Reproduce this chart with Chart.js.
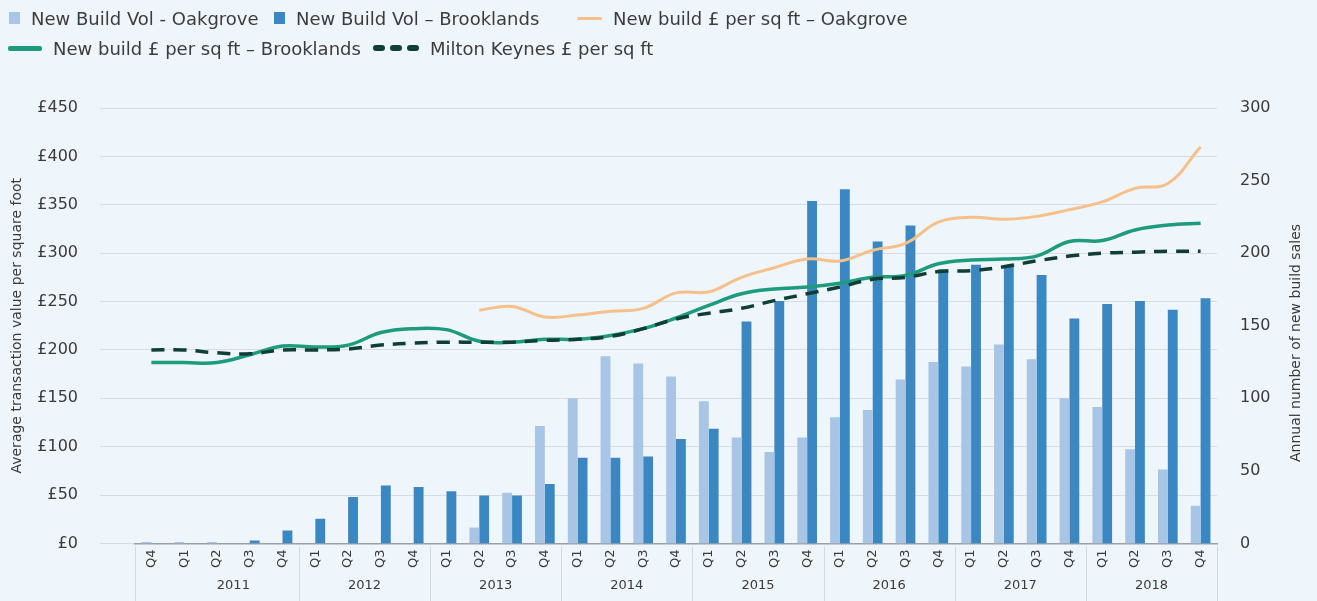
<!DOCTYPE html>
<html>
<head>
<meta charset="utf-8">
<title>New build sales and price per sq ft</title>
<script src="https://cdn.jsdelivr.net/npm/chart.js@4.4.0/dist/chart.umd.min.js"></script>
<style>
  html, body { margin: 0; padding: 0; background: #eef5fb; }
  #wrap { position: relative; width: 1317px; height: 601px; overflow: hidden; }
  #chart { position: absolute; left: 0; top: 0; }
  #legend { position: absolute; left: 0; top: 0; width: 1317px; font-family: 'DejaVu Sans', sans-serif; font-size: 18px; color: #3c3c3c; }
  .item { position: absolute; display: flex; align-items: center; white-space: nowrap; height: 24px; }
  .sym { margin-right: 11px; display: flex; align-items: center; gap: 5px; }
</style>
</head>
<body>
<div id="wrap">
  <canvas id="chart" width="1317" height="601"></canvas>
  <div id="legend"></div>
</div>
<script>
// quarters, 2011 Q4 (the lead-in quarter) .. 2018 Q4
const quarters = ['Q4', 'Q1', 'Q2', 'Q3', 'Q4',
  'Q1', 'Q2', 'Q3', 'Q4', 'Q1', 'Q2', 'Q3', 'Q4', 'Q1', 'Q2', 'Q3', 'Q4',
  'Q1', 'Q2', 'Q3', 'Q4', 'Q1', 'Q2', 'Q3', 'Q4', 'Q1', 'Q2', 'Q3', 'Q4',
  'Q1', 'Q2', 'Q3', 'Q4'];
const years = ['2011', '2012', '2013', '2014', '2015', '2016', '2017', '2018'];
const yearStart = [0, 5, 9, 13, 17, 21, 25, 29];

// annual number of new build sales (right axis)
const volOakgrove = [1, 1, 1, 0, 0, 0, 0, 0, 0, 0, 11, 35, 81,
  100, 129, 124, 115, 98, 73, 63, 73, 87, 92, 113, 125,
  122, 137, 127, 100, 94, 65, 51, 26];
const volBrooklands = [0, 0, 0, 2, 9, 17, 32, 40, 39, 36, 33, 33, 41,
  59, 59, 60, 72, 79, 153, 167, 236, 244, 208, 219, 189,
  192, 191, 185, 155, 165, 167, 161, 169];

// average £ per sq ft (left axis)
const psfOakgrove = [null, null, null, null, null, null, null, null, null, null, 241, 245, 234,
  236, 240, 243, 259, 260, 275, 285, 294, 292, 303, 310, 332,
  337, 335, 338, 345, 353, 367, 372, 410];
const psfBrooklands = [187, 187, 187, 195, 204, 203, 205, 218, 222, 221, 209, 208, 211,
  211, 215, 222, 233, 246, 258, 263, 265, 269, 275, 277, 289,
  293, 294, 297, 312, 313, 324, 329, 331];
const psfMiltonKeynes = [200, 200, 197, 196, 200, 200, 201, 205, 207, 208, 208, 208, 210,
  211, 214, 222, 232, 238, 243, 251, 258, 265, 273, 275, 281,
  282, 286, 292, 297, 300, 301, 302, 302];

const leftTitle = 'Average transaction value per square foot';
const rightTitle = 'Annual number of new build sales';

const FONT = "'DejaVu Sans', sans-serif";
const TEXT = '#3a3a3a';
Chart.defaults.font.family = FONT;
Chart.defaults.color = TEXT;

// year row under the quarter labels + right axis title (reads bottom to top)
const extras = {
  id: 'extras',
  afterDraw(chart) {
    const {ctx, chartArea} = chart;
    const x = chart.scales.x;
    const half = (x.getPixelForValue(1) - x.getPixelForValue(0)) / 2;
    const bounds = yearStart.concat([quarters.length]);
    ctx.save();
    ctx.strokeStyle = '#d2d9e0';
    ctx.lineWidth = 1;
    bounds.forEach(function(i) {
      const px = Math.round(x.getPixelForValue(i) - half) + 0.5;
      ctx.beginPath();
      ctx.moveTo(px, chartArea.bottom + 3);
      ctx.lineTo(px, chart.height);
      ctx.stroke();
    });
    ctx.fillStyle = TEXT;
    ctx.font = '13px ' + FONT;
    ctx.textAlign = 'center';
    ctx.textBaseline = 'middle';
    years.forEach(function(yr, k) {
      const end = bounds[k + 1] - 1;
      const cx = (x.getPixelForValue(end - 3) + x.getPixelForValue(end)) / 2;
      ctx.fillText(yr, cx, chartArea.bottom + 42);
    });
    ctx.font = '14px ' + FONT;
    ctx.translate(1296, 343);
    ctx.rotate(-Math.PI / 2);
    ctx.fillText(rightTitle, 0, 0);
    ctx.restore();
  }
};

const chart = new Chart(document.getElementById('chart'), {
  type: 'bar',
  data: {
    labels: quarters,
    datasets: [
      { label: 'New Build Vol - Oakgrove', data: volOakgrove, yAxisID: 'y1',
        backgroundColor: '#a9c5e6', order: 3 },
      { label: 'New Build Vol – Brooklands', data: volBrooklands, yAxisID: 'y1',
        backgroundColor: '#3a87c1', order: 4 },
      { type: 'line', label: 'New build £ per sq ft – Oakgrove', data: psfOakgrove, yAxisID: 'y',
        borderColor: '#f5c08a', backgroundColor: '#f5c08a', borderWidth: 3, pointRadius: 0, tension: 0.4, order: 2 },
      { type: 'line', label: 'New build £ per sq ft – Brooklands', data: psfBrooklands, yAxisID: 'y',
        borderColor: '#1e9b7f', backgroundColor: '#1e9b7f', borderWidth: 3.5, pointRadius: 0, tension: 0.4, order: 1 },
      { type: 'line', label: 'Milton Keynes £ per sq ft', data: psfMiltonKeynes, yAxisID: 'y',
        borderColor: '#0f3e36', backgroundColor: '#0f3e36', borderWidth: 3.5, borderDash: [13, 9],
        pointRadius: 0, tension: 0.4, order: 0 }
    ]
  },
  options: {
    responsive: false,
    animation: false,
    layout: { padding: { top: 108, bottom: 27, left: 0, right: 0 } },
    datasets: { bar: { categoryPercentage: 0.6, barPercentage: 1 } },
    plugins: { legend: { display: false }, tooltip: { enabled: false } },
    scales: {
      x: {
        grid: { display: false, drawTicks: false },
        border: { color: '#9aa0a6', width: 1.5 },
        ticks: { autoSkip: false, minRotation: 90, maxRotation: 90, padding: 6, font: { size: 13 } }
      },
      y: {
        position: 'left', min: 0, max: 450,
        afterFit: function(scale) { scale.width = 135; },
        ticks: { stepSize: 50, padding: 22, font: { size: 16 }, callback: function(v) { return '£' + v; } },
        grid: { color: '#d6dce2', tickLength: 35 },
        border: { display: false },
        title: { display: true, text: leftTitle, font: { size: 14 }, padding: { top: 9, bottom: 0 } }
      },
      y1: {
        position: 'right', min: 0, max: 300,
        afterFit: function(scale) { scale.width = 100; },
        ticks: { stepSize: 50, padding: 23, font: { size: 16 } },
        grid: { display: false, drawTicks: false },
        border: { display: false }
      }
    }
  },
  plugins: [extras]
});

// html legend, laid out in two rows like the original
const legendSlots = [
  { i: 0, left: 9, top: 6 }, { i: 1, left: 274, top: 6 }, { i: 2, left: 577, top: 6 },
  { i: 3, left: 8, top: 36 }, { i: 4, left: 373, top: 36 }
];
const legend = document.getElementById('legend');
legendSlots.forEach(function(slot) {
  const ds = chart.data.datasets[slot.i];
  const item = document.createElement('div');
  item.className = 'item';
  item.style.left = slot.left + 'px';
  item.style.top = slot.top + 'px';
  const sym = document.createElement('span');
  sym.className = 'sym';
  if (!ds.type) {
    sym.innerHTML = '<span style="display:inline-block;width:11px;height:12px;background:' + ds.backgroundColor + '"></span>';
  } else if (ds.borderDash) {
    sym.innerHTML = [0, 1, 2].map(function() {
      return '<span style="display:inline-block;width:12px;height:6px;border-radius:3px;background:' + ds.borderColor + '"></span>';
    }).join('');
  } else {
    const w = ds.borderWidth > 3 ? 34 : 25;
    const h = ds.borderWidth > 3 ? 5 : 3;
    sym.innerHTML = '<span style="display:inline-block;width:' + w + 'px;height:' + h + 'px;border-radius:2px;background:' + ds.borderColor + '"></span>';
  }
  const txt = document.createElement('span');
  txt.textContent = ds.label;
  item.appendChild(sym);
  item.appendChild(txt);
  legend.appendChild(item);
});
</script>
</body>
</html>
